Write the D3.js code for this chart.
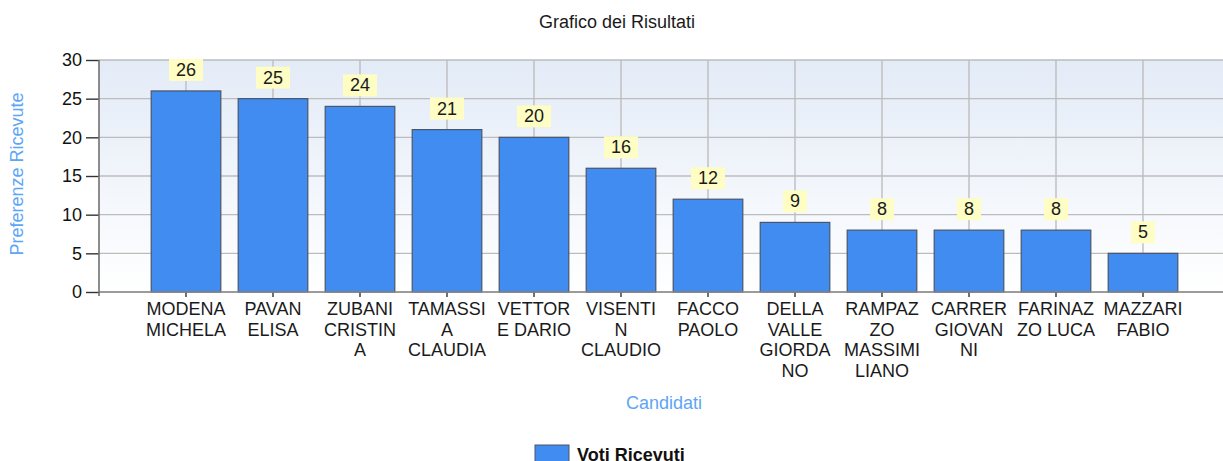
<!DOCTYPE html>
<html>
<head>
<meta charset="utf-8">
<script src="https://cdn.jsdelivr.net/npm/d3@7"></script>
<style>
  body { margin: 0; background: #fff; }
  svg { display: block; font-family: "Liberation Sans", Arial, sans-serif; }
</style>
</head>
<body>
<div id="chart"></div>
<script>
// dati del grafico
var candidati = [
  "MODENA\nMICHELA", "PAVAN\nELISA", "ZUBANI\nCRISTIN\nA", "TAMASSI\nA\nCLAUDIA",
  "VETTOR\nE DARIO", "VISENTI\nN\nCLAUDIO", "FACCO\nPAOLO", "DELLA\nVALLE\nGIORDA\nNO",
  "RAMPAZ\nZO\nMASSIMI\nLIANO", "CARRER\nGIOVAN\nNI", "FARINAZ\nZO LUCA", "MAZZARI\nFABIO"
];
var voti = [26, 25, 24, 21, 20, 16, 12, 9, 8, 8, 8, 5];
var yTicks = [0, 5, 10, 15, 20, 25, 30];

var width = 1223, height = 461;
var pLeft = 99, pRight = 1230, pTop = 60, pBottom = 292;

var svg = d3.select("#chart").append("svg")
  .attr("width", width)
  .attr("height", height);

var x = d3.scaleBand()
  .domain(candidati)
  .range([pLeft, pRight])
  .paddingInner(0.2)
  .paddingOuter(0.6);

var y = d3.scaleLinear()
  .domain([0, 30])
  .range([pBottom, pTop]);

// sfondo sfumato dell'area del grafico
var grad = svg.append("defs").append("linearGradient")
  .attr("id", "bg").attr("x1", 0).attr("y1", 0).attr("x2", 0).attr("y2", 1);
grad.append("stop").attr("offset", "0%").attr("stop-color", "#e3ebf7");
grad.append("stop").attr("offset", "100%").attr("stop-color", "#ffffff");

svg.append("rect")
  .attr("x", pLeft).attr("y", pTop)
  .attr("width", pRight - pLeft).attr("height", pBottom - pTop)
  .attr("fill", "url(#bg)");

// griglia orizzontale
svg.append("g")
  .selectAll("line")
  .data(yTicks)
  .enter().append("line")
  .attr("x1", pLeft).attr("x2", pRight)
  .attr("y1", d => y(d)).attr("y2", d => y(d))
  .attr("stroke", "#bdbdbd")
  .attr("stroke-width", 1.4);

// griglia verticale
svg.append("g")
  .selectAll("line")
  .data(candidati)
  .enter().append("line")
  .attr("x1", d => x(d) + x.bandwidth() / 2)
  .attr("x2", d => x(d) + x.bandwidth() / 2)
  .attr("y1", pTop).attr("y2", pBottom)
  .attr("stroke", "#bdbdbd")
  .attr("stroke-width", 1.4);

// barre
svg.append("g")
  .selectAll("rect")
  .data(voti)
  .enter().append("rect")
  .attr("x", (d, i) => x(candidati[i]))
  .attr("y", d => y(d))
  .attr("width", x.bandwidth())
  .attr("height", d => y(0) - y(d))
  .attr("fill", "#418cf0")
  .attr("stroke", "#4a5568")
  .attr("stroke-width", 1.2);

// etichette dei valori
var lab = svg.append("g")
  .selectAll("g")
  .data(voti)
  .enter().append("g")
  .attr("transform", (d, i) => "translate(" + (x(candidati[i]) + x.bandwidth() / 2) + "," + (y(d) - 10) + ")");

lab.append("rect").attr("fill", "#fdfdc4");
lab.append("text")
  .attr("y", -5)
  .attr("text-anchor", "middle")
  .style("font-size", "18px")
  .attr("fill", "#1a1a1a")
  .text(d => d);
lab.each(function () {
  var g = d3.select(this);
  var w = g.select("text").node().getComputedTextLength() + 14;
  g.select("rect").attr("x", -w / 2).attr("y", -22).attr("width", w).attr("height", 22);
});

// asse y
var yAxis = d3.axisLeft(y).tickValues(yTicks).tickSize(13).tickPadding(4);
var gy = svg.append("g")
  .attr("transform", "translate(" + pLeft + ",0)")
  .call(yAxis);
gy.select(".domain").remove();
gy.selectAll(".tick line").attr("stroke", "#333").attr("stroke-width", 1.4);
gy.selectAll(".tick text")
  .style("font-size", "18px")
  .attr("fill", "#111");

// asse x
var xAxis = d3.axisBottom(x).tickSize(5).tickFormat("");
var gx = svg.append("g")
  .attr("transform", "translate(0," + pBottom + ")")
  .call(xAxis);
gx.select(".domain").remove();
gx.selectAll(".tick line").attr("stroke", "#333").attr("stroke-width", 1.4);

svg.append("line")
  .attr("x1", pLeft).attr("x2", pRight)
  .attr("y1", pBottom).attr("y2", pBottom)
  .attr("stroke", "#8a8a8a").attr("stroke-width", 1.6);
svg.append("line")
  .attr("x1", pLeft).attr("x2", pLeft)
  .attr("y1", pTop).attr("y2", pBottom + 4)
  .attr("stroke", "#707070").attr("stroke-width", 1.6);

// etichette categorie su più righe
svg.append("g")
  .selectAll("text")
  .data(candidati)
  .enter().append("text")
  .attr("x", d => x(d) + x.bandwidth() / 2)
  .attr("y", 315)
  .attr("text-anchor", "middle")
  .style("font-size", "18px")
  .attr("fill", "#1a1a1a")
  .each(function (d) {
    var t = d3.select(this);
    d.split("\n").forEach(function (riga, k) {
      t.append("tspan")
        .attr("x", x(d) + x.bandwidth() / 2)
        .attr("dy", k === 0 ? 0 : 20.5)
        .text(riga);
    });
  });

// titoli
svg.append("text")
  .attr("x", 617).attr("y", 28)
  .attr("text-anchor", "middle")
  .style("font-size", "18px")
  .attr("fill", "#1a1a1a")
  .text("Grafico dei Risultati");

svg.append("text")
  .attr("transform", "translate(23,174) rotate(-90)")
  .attr("text-anchor", "middle")
  .style("font-size", "18px")
  .attr("fill", "#5da5f7")
  .text("Preferenze Ricevute");

svg.append("text")
  .attr("x", 664).attr("y", 409)
  .attr("text-anchor", "middle")
  .style("font-size", "18px")
  .attr("fill", "#5da5f7")
  .text("Candidati");

// legenda
svg.append("rect")
  .attr("x", 535).attr("y", 445)
  .attr("width", 34).attr("height", 18)
  .attr("fill", "#418cf0")
  .attr("stroke", "#4a5568");
svg.append("text")
  .attr("x", 577).attr("y", 461)
  .style("font-size", "18px")
  .style("font-weight", "bold")
  .attr("fill", "#111")
  .text("Voti Ricevuti");
</script>
</body>
</html>
